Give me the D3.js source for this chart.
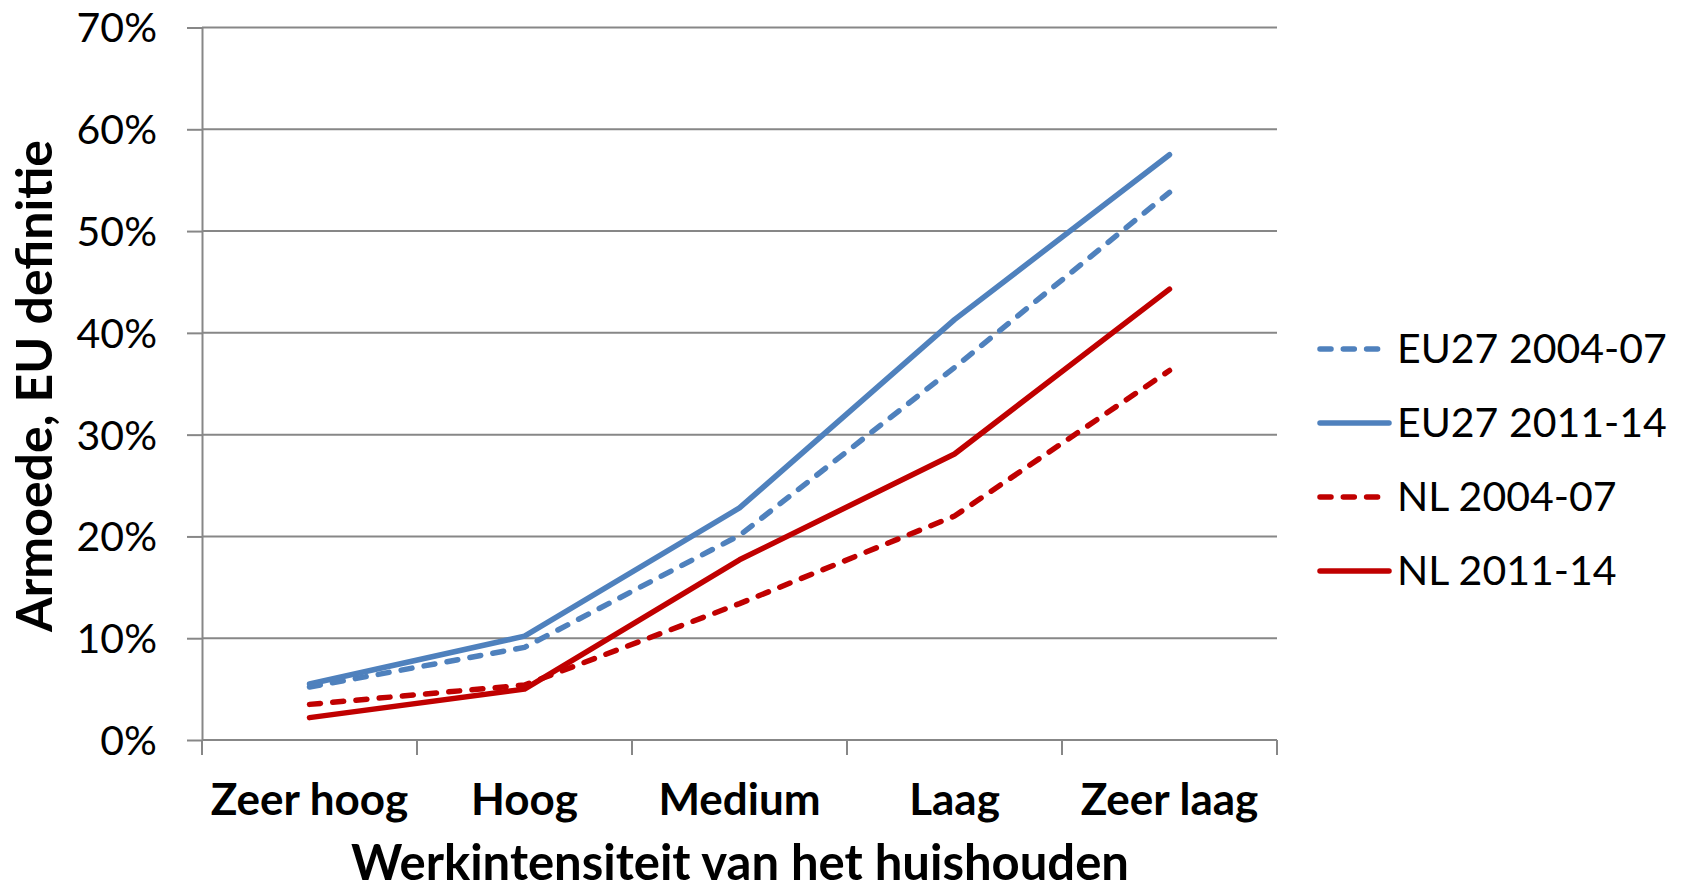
<!DOCTYPE html>
<html>
  <head>
    <meta charset="UTF-8">
    <title>Armoede naar werkintensiteit</title>
    <script src="https://d3js.org/d3.v7.min.js"></script>
    <style>
      body { margin: 0; background: #fff; }
      text { font-family: Lato, "Open Sans", sans-serif; fill: #000; }
    </style>
  </head>
  <body>
    <div id="graph"></div>
    <script>

const categories = ["Zeer hoog", "Hoog", "Medium", "Laag", "Zeer laag"];
const seriesNames = ["EU27 2004-07", "EU27 2011-14", "NL 2004-07", "NL 2011-14"];
const eu0407 = [0.052, 0.091, 0.201, 0.366, 0.538];
const eu1114 = [0.055, 0.102, 0.228, 0.413, 0.575];
const nl0407 = [0.035, 0.054, 0.134, 0.220, 0.363];
const nl1114 = [0.022, 0.050, 0.177, 0.281, 0.443];
const yTicks = [0, 0.1, 0.2, 0.3, 0.4, 0.5, 0.6, 0.7];

const svgWidth = 1684;
const svgHeight = 893;

const plotLeft = 202, plotRight = 1277, plotTop = 27.5, plotBottom = 740;

const series = [
  {name: seriesNames[0], values: eu0407, color: "#4f81bd", dash: true},
  {name: seriesNames[1], values: eu1114, color: "#4f81bd", dash: false},
  {name: seriesNames[2], values: nl0407, color: "#c00000", dash: true},
  {name: seriesNames[3], values: nl1114, color: "#c00000", dash: false}
];

const svg = d3.select("#graph")
  .append("svg")
  .attr("width", svgWidth)
  .attr("height", svgHeight);

const xScale = d3.scaleBand()
  .domain(categories)
  .range([plotLeft, plotRight]);

const yScale = d3.scaleLinear()
  .domain([0, 0.7])
  .range([plotBottom, plotTop]);

// gridlines
svg.append("g")
  .selectAll("line")
  .data(yTicks)
  .enter()
  .append("line")
  .attr("x1", plotLeft)
  .attr("x2", plotRight)
  .attr("y1", d => yScale(d))
  .attr("y2", d => yScale(d))
  .attr("stroke", "#878787")
  .attr("stroke-width", 2);

// y axis
const yAxis = svg.append("g")
  .attr("transform", "translate(" + plotLeft + ",0)")
  .call(d3.axisLeft(yScale)
    .tickValues(yTicks)
    .tickFormat(d3.format(".0%"))
    .tickSize(15)
    .tickSizeOuter(0)
    .tickPadding(30));
yAxis.selectAll("line, path").attr("stroke", "#878787").attr("stroke-width", 2);
yAxis.selectAll("text").style("font-size", "41px").attr("dy", "0.35em");

// x axis
const xAxis = svg.append("g")
  .attr("transform", "translate(0," + plotBottom + ")")
  .call(d3.axisBottom(xScale).tickSize(0));
xAxis.select("path").remove();
xAxis.selectAll("text")
  .attr("y", 75)
  .attr("dy", 0)
  .style("font-size", "44px")
  .style("font-weight", "bold");

const boundaries = categories.map(c => xScale(c)).concat([xScale(categories[categories.length - 1]) + xScale.bandwidth()]);
svg.append("g")
  .selectAll("line")
  .data(boundaries)
  .enter()
  .append("line")
  .attr("x1", d => d)
  .attr("x2", d => d)
  .attr("y1", plotBottom)
  .attr("y2", plotBottom + 15)
  .attr("stroke", "#878787")
  .attr("stroke-width", 2);

// lines
const line = d3.line()
  .x((d, i) => xScale(categories[i]) + xScale.bandwidth() / 2)
  .y(d => yScale(d));

svg.append("g")
  .selectAll("path")
  .data(series)
  .enter()
  .append("path")
  .attr("d", d => line(d.values))
  .attr("fill", "none")
  .attr("stroke", d => d.color)
  .attr("stroke-width", 5.5)
  .attr("stroke-linecap", "round")
  .attr("stroke-linejoin", "round")
  .attr("stroke-dasharray", d => d.dash ? "11,12.3" : null);

// legend
const legend = svg.append("g")
  .selectAll("g")
  .data(series)
  .enter()
  .append("g")
  .attr("transform", (d, i) => "translate(1317," + (349 + i * 74) + ")");

legend.append("line")
  .attr("x1", 3)
  .attr("x2", d => d.dash ? 63 : 72)
  .attr("stroke", d => d.color)
  .attr("stroke-width", 5.5)
  .attr("stroke-linecap", "round")
  .attr("stroke-dasharray", d => d.dash ? "11,12.3" : null);

legend.append("text")
  .attr("x", 80)
  .attr("dy", "0.35em")
  .style("font-size", "41px")
  .text(d => d.name);

// axis titles
svg.append("text")
  .attr("x", 740)
  .attr("y", 880)
  .attr("text-anchor", "middle")
  .style("font-size", "49px")
  .style("font-weight", "bold")
  .text("Werkintensiteit van het huishouden");

svg.append("text")
  .attr("transform", "translate(52,386) rotate(-90)")
  .attr("text-anchor", "middle")
  .attr("textLength", 492)
  .attr("lengthAdjust", "spacingAndGlyphs")
  .style("font-size", "50px")
  .style("font-weight", "bold")
  .text("Armoede, EU definitie");

    </script>
  </body>
</html>
